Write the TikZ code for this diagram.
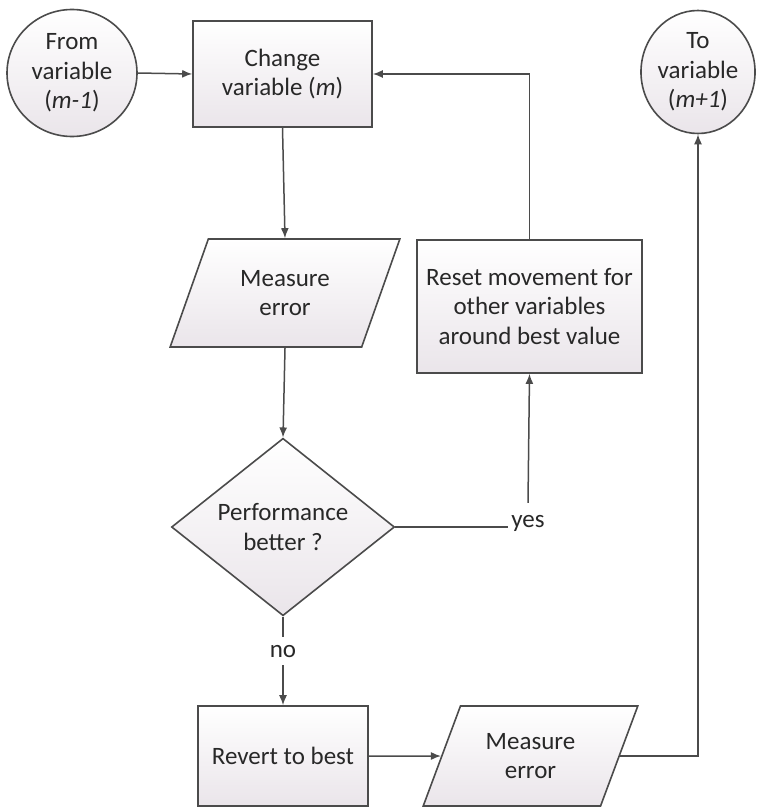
\documentclass[tikz,border=0pt]{standalone}
\usepackage{fontspec}
\setmainfont{Carlito}
\usetikzlibrary{shapes.geometric,arrows.meta}
\definecolor{edgecol}{RGB}{75,75,75}
\definecolor{shadebot}{RGB}{234,229,234}
\definecolor{txtcol}{RGB}{40,40,40}
\begin{document}
\begin{tikzpicture}[x=1pt,y=-1pt,
  base/.style={draw=edgecol,line width=1.6pt,top color=white,bottom color=shadebot,
    font=\fontsize{25}{29.5}\selectfont,text=txtcol,align=center,inner sep=0pt},
  boxnode/.style={base,rectangle},
  ellnode/.style={base,ellipse},
  ionode/.style={base,trapezium,trapezium stretches=true,trapezium left angle=#1,trapezium right angle=180-#1},
  decnode/.style={base,diamond},
  lbl/.style={font=\fontsize{25}{29.5}\selectfont,text=txtcol,inner sep=0pt},
  conn/.style={draw=edgecol,line width=1.5pt,-{Latex[length=10pt,width=8pt]}},
  plain/.style={draw=edgecol,line width=1.5pt}
]
\useasboundingbox (0,0) rectangle (757,808);

\node[ellnode,minimum width=130pt,minimum height=127pt] (from) at (72,73) {From\\variable\\(\textit{m-1})};
\node[boxnode,minimum width=179pt,minimum height=106pt] (change) at (282.5,74) {Change\\variable (\textit{m})};
\node[ellnode,minimum width=110pt,minimum height=123pt] (to) at (698,72) {To\\variable\\(\textit{m+1})};

\node[ionode=64,minimum width=230pt,minimum height=108pt] (meas1) at (285,293) {Measure\\error};
\node[boxnode,minimum width=225pt,minimum height=133pt] (reset) at (529.5,306.5) {Reset movement for\\other variables\\around best value};

\node[decnode,minimum width=223pt,minimum height=134pt] (dec) at (283,527) {Performance\\better ?};

\node[lbl,anchor=base,text height=24pt,inner xsep=3pt] (yes) at (528,527) {yes};
\node[lbl,anchor=base,text height=20pt,text depth=8pt] (no) at (283,657) {no};

\node[boxnode,minimum width=170pt,minimum height=100pt] (revert) at (283,756) {Revert to best};
\node[ionode=62.5,minimum width=215pt,minimum height=100pt] (meas2) at (530.5,756) {Measure\\error};

\draw[conn] (from.east) -- (change.west);
\draw[conn] (change.south) -- (meas1.north);
\draw[conn] (meas1.south) -- (dec.north);
\draw[plain] (dec.east) -- (yes.base west);
\draw[conn] (yes.north) -- (reset.south);
\draw[conn] (reset.north) |- (change.east);
\draw[plain] (dec.south) -- (no.north);
\draw[conn] (no.south) -- (revert.north);
\draw[conn] (revert.east) -- (meas2.west);
\draw[conn] (meas2.east) -| (to.south);
\end{tikzpicture}
\end{document}
